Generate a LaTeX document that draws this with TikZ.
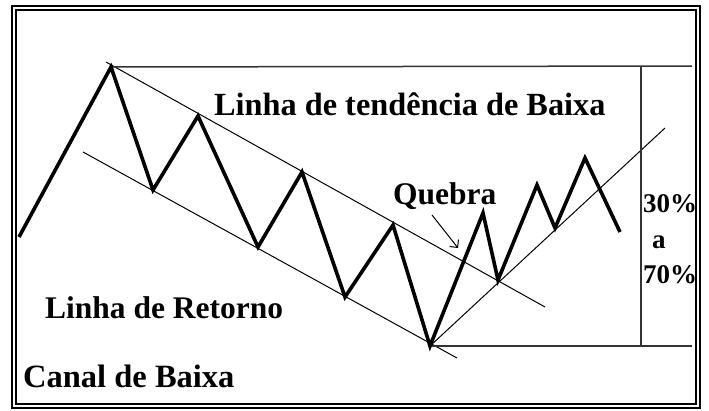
\documentclass[tikz,border=0pt]{standalone}
\usepackage{fontspec}
\setmainfont{Liberation Serif}
\usetikzlibrary{arrows.meta}
\begin{document}
\begin{tikzpicture}[x=1pt,y=-1pt,
  frame/.style={draw=black,line width=2pt},
  price/.style={draw=black,line width=3.6pt,line join=miter,miter limit=20},
  chan/.style={draw=black,line width=1pt},
  guide/.style={draw=black!80,line width=1.5pt},
  lbl/.style={inner sep=0pt,anchor=base west,font=\fontsize{31.5}{34}\selectfont\bfseries},
  pct/.style={inner sep=0pt,anchor=base west,font=\fontsize{27}{29}\selectfont\bfseries}]
\useasboundingbox (0,0) rectangle (709,410);
\fill[white] (0,0) rectangle (709,410);
% frame
\draw[frame] (12,6) rectangle (700,408);
\draw[frame] (16,10) rectangle (696,404);
% points
\coordinate (s) at (19,237);
\coordinate (p1) at (111,67);
\coordinate (t1) at (153,190);
\coordinate (p2) at (198,116);
\coordinate (t2) at (258,247);
\coordinate (p3) at (302,172);
\coordinate (t3) at (345,297);
\coordinate (p4) at (393,225);
\coordinate (t4) at (430,346);
\coordinate (p5) at (483,213);
\coordinate (t5) at (498,280);
\coordinate (p6) at (537,185);
\coordinate (t6) at (555,228);
\coordinate (p7) at (585,158);
\coordinate (e) at (620,232);
% channel lines
\coordinate (tl1) at (106,62);
\coordinate (tl2) at (545,307);
\coordinate (rl1) at (83,152);
\coordinate (rl2) at (457,358);
\coordinate (up2) at (665,128);
\coordinate (hr1) at (692,66);
\coordinate (hr2) at (692,346);
\coordinate (v1) at (641,66);
\coordinate (v2) at (641,346);
\draw[chan] (tl1) -- (tl2);
\draw[chan] (rl1) -- (rl2);
\draw[chan] (t4) -- (up2);
\draw[guide] (p1) -- (hr1);
\draw[guide] (t4) -- (hr2);
\draw[guide] (v1) -- (v2);
% price zigzag
\draw[price] (s) -- (p1) -- (t1) -- (p2) -- (t2) -- (p3) -- (t3) -- (p4) -- (t4) -- (p5) -- (t5) -- (p6) -- (t6) -- (p7) -- (e);
% arrow
\coordinate (qa) at (432,215);
\coordinate (qb) at (458,248);
\draw[chan,-{Straight Barb[angle=90:8pt]}] (qa) -- (qb);
% labels
\node[lbl,font=\fontsize{32.3}{34}\selectfont\bfseries] (lt) at (214,115) {Linha de tendência de Baixa};
\node[lbl] (q) at (393,204) {Quebra};
\node[lbl] (lr) at (45,318) {Linha de Retorno};
\node[lbl,font=\fontsize{32.5}{34}\selectfont\bfseries] (cb) at (23,387) {Canal de Baixa};
\node[pct] (p30) at (643,212) {30\%};
\node[pct] (pa) at (652,248) {a};
\node[pct] (p70) at (643,283) {70\%};
\end{tikzpicture}
\end{document}
